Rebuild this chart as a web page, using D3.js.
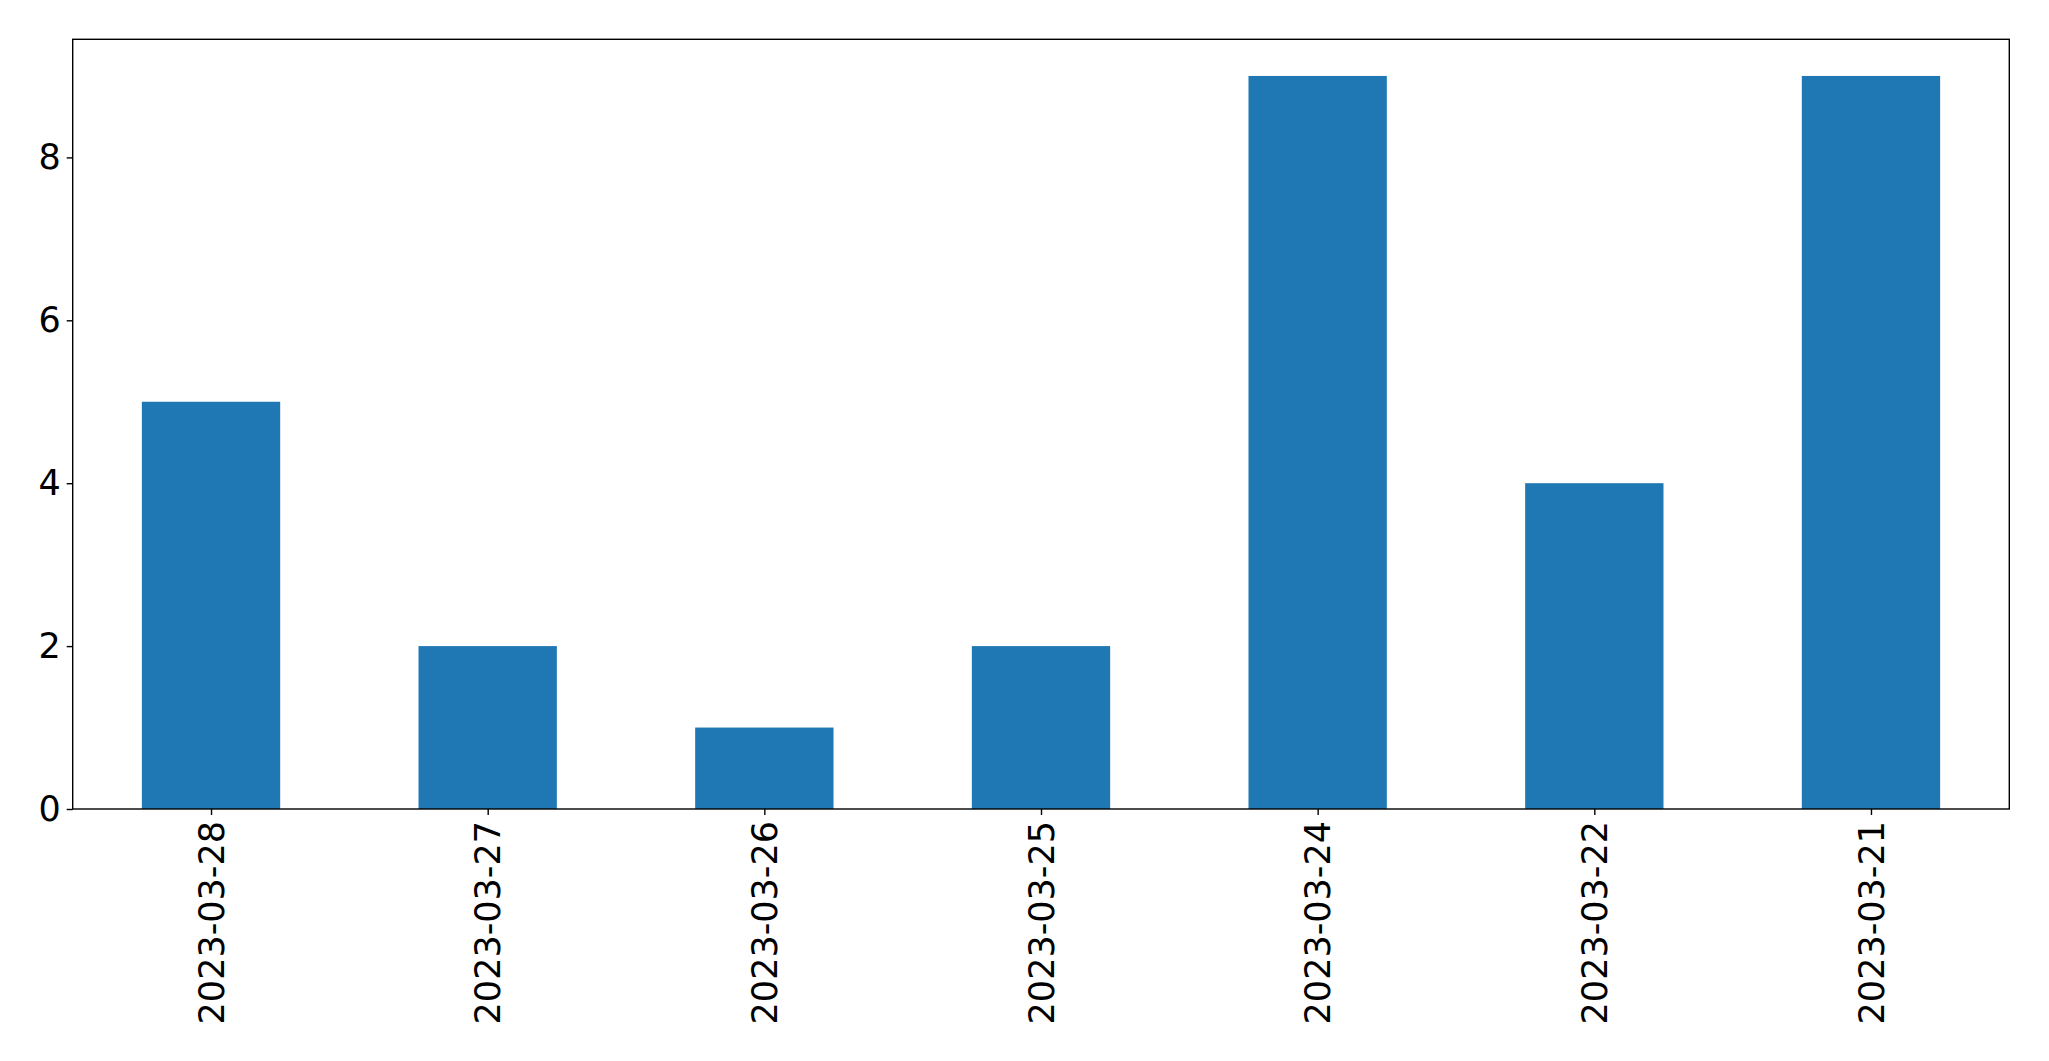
<!DOCTYPE html>
<html><head><meta charset="utf-8">
<script src="https://cdn.jsdelivr.net/npm/d3@7/dist/d3.min.js"></script>
<style>body{margin:0;background:#fff;} svg{display:block;} text{font-family:"DejaVu Sans",sans-serif;}</style>
</head><body>
<svg id="c" width="2049" height="1061"></svg>
<script>
const categories = ["2023-03-28","2023-03-27","2023-03-26","2023-03-25","2023-03-24","2023-03-22","2023-03-21"];
const values = [5,2,1,2,9,4,9];
const yTicks = [0,2,4,6,8];

const svg = d3.select("#c");
const L = 72.7, R = 2009.3, T = 39.3, B = 809;
const x = d3.scaleLinear().domain([-0.5, categories.length - 0.5]).range([L, R]);
const y = d3.scaleLinear().domain([0, d3.max(values) * 1.05]).range([B, T]);
const bw = x(0.5) - x(0);

svg.append("g").selectAll("rect").data(values).join("rect")
  .attr("x", (d,i) => x(i) - bw/2)
  .attr("width", bw)
  .attr("y", d => y(d))
  .attr("height", d => B - y(d))
  .attr("fill", "#1f77b4");

const fs = 35;
const yAxis = svg.append("g").attr("transform", `translate(${L},0)`)
  .call(d3.axisLeft(y).tickValues(yTicks).tickSize(6).tickPadding(6).tickFormat(d3.format("d")));
yAxis.select(".domain").remove();
yAxis.selectAll("line").attr("stroke", "#000").attr("stroke-width", 1.4);
yAxis.selectAll("text").attr("font-size", fs).attr("fill", "#000").attr("font-family", "DejaVu Sans");

const xAxis = svg.append("g").attr("transform", `translate(0,${B})`)
  .call(d3.axisBottom(x).tickValues(d3.range(categories.length)).tickSize(6).tickFormat(i => categories[i]));
xAxis.select(".domain").remove();
xAxis.selectAll("line").attr("stroke", "#000").attr("stroke-width", 1.4);
xAxis.selectAll("text")
  .attr("font-size", fs).attr("fill", "#000").attr("font-family", "DejaVu Sans")
  .attr("transform", "rotate(-90)")
  .attr("text-anchor", "end")
  .attr("x", -12).attr("y", 0).attr("dy", "0.35em");

svg.append("rect").attr("x", L).attr("y", T).attr("width", R - L).attr("height", B - T)
  .attr("fill", "none").attr("stroke", "#000").attr("stroke-width", 1.4);
</script>
</body></html>
